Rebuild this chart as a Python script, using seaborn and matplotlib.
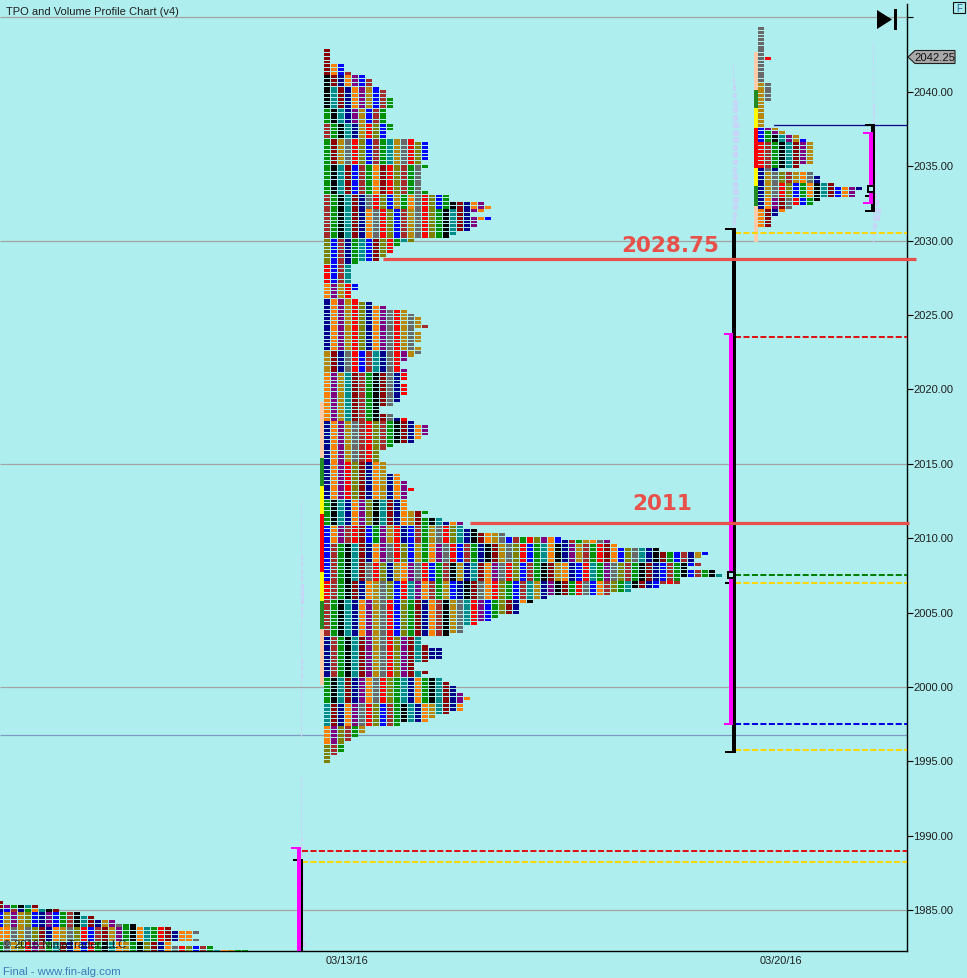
import numpy as np
import pandas as pd
import matplotlib
matplotlib.use("Agg")
import matplotlib.pyplot as plt
from matplotlib.transforms import ScaledTranslation
import seaborn as sns

# --- TPO row widths (cells per 0.25 price row), top row first ---
main_top_price = 2042.75
main_widths = [1, 1, 1, 1, 3, 3, 4, 6, 7, 7, 8, 9, 9, 10, 10, 10, 9, 9, 9, 9, 10, 10, 9, 9, 13, 15, 15, 15, 15, 15,
               14, 15, 14, 14, 14, 14, 14, 14, 15, 18, 18, 23, 24, 23, 21, 24, 22, 22, 21, 19, 18, 13, 11, 10, 10, 9, 8, 5, 4, 4, 4, 4, 4,
               5, 5, 4, 4, 5, 7, 9, 12, 13, 14, 14, 15, 13, 14, 14, 14, 13, 14, 14, 13, 12, 11, 11, 12, 12, 12, 11, 12, 12, 12, 11, 11,
               10, 8, 8, 10, 12, 13, 15, 15, 15, 14, 13, 10, 9, 8, 8, 8, 9, 9, 9, 11, 11, 12, 12, 13, 12, 12, 12, 12, 12, 15, 14, 17, 20,
               20, 22, 26, 34, 41, 42, 48, 55, 54, 53, 54, 52, 56, 57, 51, 51, 48, 44, 41, 32, 30, 28, 28, 28, 25, 24, 22, 20, 20,
               18, 14, 14, 15, 17, 17, 17, 15, 13, 13, 15, 14, 17, 18, 19, 19, 20, 21, 20, 20, 20, 18, 16, 15, 11, 6, 6, 5, 4, 3, 3, 3, 2, 1, 1]
right_top_price = 2044.25
right_widths = [1, 1, 1, 1, 1, 1, 1, 1, 2, 1, 1, 1, 1, 1, 1, 2, 2, 2, 2, 2, 1, 1, 1, 1, 1, 1, 1,
                3, 4, 6, 7, 8, 8, 8, 8, 8, 8, 6, 3, 8, 9, 9, 11, 15, 14, 14, 9, 8, 5, 4, 3, 2, 2, 2]
prev_top_price = 1985.5
prev_widths = [1, 6, 9, 12, 14, 17, 20, 25, 29, 28, 29, 25, 31, 36]

# letters stand for the period colours, read along rows of the picture in bands of similar rows
main_band_rows = [4, 3, 3, 6, 4, 4, 7, 8, 4, 8, 7, 5, 4, 14, 6, 13, 11, 10, 7, 5, 5, 5, 5, 10, 11, 7, 6, 5, 5]
main_band_cells = ["d", "dobw", "kdnopbww", "ktdnopybwg", "gktnpybwg", "wgktnyrvbg", "gdyarvbwgtyarvb", "gktdbwgodrvwga",
                   "wgktdnarvbygoarvbgkdnopo", "wgktdnoarvbwyarvgktdnpob", "vbwngtbdvrgt", "rbwt", "opyrbt",
                   "nopyrvnoparyaywar", "ydnarbwtnarpya", "opytdwgkdanrp", "nopyawrvwgkdnop", "noprvdnoy", "gktnopvktdnoyd",
                   "bopwrdbgpyrnbwgyarvtnkdoyabwgrvpobnwgyoapkdtbrvnoywgkbn",
                   "bwgktdnoparvbygoparbwgnkdyavrbgtoknpywgrdobvatnkdgbwny",
                   "bwgktdarvnyoparbgwkyntdoparvbwgkdyonbrtgpavwgkdnbwgk",
                   "rwgkdnoyavbrtpowgybnkdaorvgbwtynpkdgrabowvgtkdnbw",
                   "wgktnopyarbvgdnowkyatrpbgvdnoktwabgyrkpnb",
                   "nwgktdpyarvpdtdn", "gktdnpoarvgtno", "tdnoparvbwgktnoy", "opvwgy", "vwg"]
right_band_rows = [8, 1, 6, 5, 7, 1, 1, 2, 7, 1, 3, 4, 3, 5]
right_band_cells = ["a", "ar", "a", "ya", "y", "bpy", "bgpy", "bgktpy", "rwgktdpy", "na", "nyavwyoa", "nyarvbgoktdbop",
                    "nopdarbgktdnop", "odnop"]
prev_band_rows = [1, 1, 1, 4, 4, 3]
prev_band_cells = ["d", "dpgktd", "nbwngotkd", "bypyvbnpbgwktdnypagkt", "ooayavdnoyavrbwdypgkotgrdn", "gayvrpwgtdnobrgktoygkvdnoarvbwgtoyg"]

# --- value area strips (price from, price to, colour) ---
main_strip = [(2019.15, 2015.4, "#FFCBA8"), (2015.4, 2013.5, "#228B22"), (2013.5, 2011.6, "#FFFF00"), (2011.6, 2007.7, "#FF0000"),
              (2007.7, 2005.8, "#FFFF00"), (2005.8, 2003.9, "#228B22"), (2003.9, 2000.15, "#FFCBA8")]
right_strip = [(2042.65, 2040.15, "#FFCBA8"), (2040.15, 2038.9, "#228B22"), (2038.9, 2037.6, "#FFFF00"), (2037.6, 2034.85, "#FF0000"),
               (2034.85, 2033.65, "#FFFF00"), (2033.65, 2032.35, "#228B22"), (2032.35, 2029.9, "#FFCBA8")]

# --- faint volume profiles, one width per 0.5 price, top first ---
vol_main_top = 2012.25
vol_main = [1, 1, 1, 1, 1, 1, 1, 2, 2, 2, 2, 3, 3, 3, 2, 2, 1, 1, 1, 1, 1, 2, 2, 2, 1, 1, 1, 1, 1, 1, 1, 1]
vol_prev_top = 1993.75
vol_prev = [1, 1, 1, 1, 1, 1, 1, 1, 2, 2, 2, 3, 3, 3, 3, 3, 3, 3, 2, 3, 3, 4, 5]
vol_right_top = 2041.75
vol_right = [1, 1, 2, 3, 4, 5, 5, 5, 6, 6, 6, 5, 5, 5, 4, 5, 5, 6, 6, 5, 4, 3, 2, 2]
vol_far_top = 2043.0
vol_far = [1, 1, 1, 1, 1, 1, 1, 1, 2, 2, 2, 3, 3, 3, 3, 3, 3, 4, 3, 3, 4, 6, 8, 7, 4, 2, 1]

# --- levels drawn across the chart ---
gray_levels = [2045, 2030, 2015, 2000, 1985]
blue_gray_level = 1996.75
dash_levels = [2030.5, 2023.5, 2007.5, 2007.0, 1997.5, 1995.75, 1989.0, 1988.25]
dash_colors = ["#FFD700", "#DC1414", "#008000", "#FFD700", "#0000E0", "#FFD700", "#DC1414", "#FFD700"]
dash_starts = [735, 735, 735, 735, 735, 735, 302, 302]
marked_levels = [2028.75, 2011]
marked_labels = ["2028.75", "2011"]
price_ticks = list(range(1985, 2050, 5))
date_labels = ["03/13/16", "03/20/16"]

CELL_COLORS = {"r": "#FF0000", "d": "#8B0000", "o": "#FF8000", "b": "#0000FF", "n": "#00008B", "k": "#000000", "g": "#009000",
               "t": "#008B8B", "p": "#800080", "y": "#B8860B", "v": "#808000", "a": "#696969", "w": "#A52A2A"}
BG = "#AFEEEE"
RED = "#E8504A"
LAVENDER = "#C6D6F6"
PX_PER_POINT = 14.88


def y_of(pixel):
    # picture row to price, 2040 sits on row 92.8
    return 2040 + (92.8 - pixel) / PX_PER_POINT


def build_cells(top_price, widths, band_rows, band_cells, first_x):
    bands = np.repeat(band_cells, band_rows)
    rows = []
    for i, width in enumerate(widths):
        letters = bands[i]
        for col in range(width):
            rows.append({"x": first_x + 7 * col, "price": top_price - 0.25 * i, "tpo": letters[col % len(letters)]})
    return pd.DataFrame(rows)


def range_bar(ax, x, hi, lo, color, tick_left):
    ax.bar(x, hi - lo, 4, bottom=lo, color=color, align="edge", zorder=5, linewidth=0)
    for level in (hi, lo):
        ax.barh(level, x + 4 - tick_left, 2 / PX_PER_POINT, left=tick_left, color=color, zorder=5, linewidth=0)


sns.set_style("white")
plt.rcParams["font.family"] = ["Liberation Sans", "DejaVu Sans"]
plt.rcParams["patch.force_edgecolor"] = False
fig = plt.figure(figsize=(9.67, 9.79), dpi=100, facecolor=BG)
ax = fig.add_axes([0, 27 / 979, 907 / 967, 947 / 979], facecolor=BG)
ax.set_xlim(0, 907)
ax.set_ylim(y_of(952), y_of(5))

ax.hlines(gray_levels, 0, 907, color="#A0A4A4", lw=0.9, zorder=1)
ax.hlines(blue_gray_level, 0, 907, color="#7A9CC0", lw=0.9, zorder=1)

# volume profiles under everything else
for top, values, left in [(vol_main_top, vol_main, 301), (vol_prev_top, vol_prev, 301), (vol_right_top, vol_right, 733), (vol_far_top, vol_far, 873)]:
    prices = top - 0.5 * np.arange(len(values))
    ax.barh(prices, values, 0.4, left=left, color=LAVENDER, zorder=2, linewidth=0)

for strip, x in [(main_strip, 320), (right_strip, 754)]:
    for hi, lo, color in strip:
        ax.bar(x, hi - lo, 4, bottom=lo, color=color, align="edge", zorder=3, linewidth=0)

cells = pd.concat([
    build_cells(main_top_price, main_widths, main_band_rows, main_band_cells, 327),
    build_cells(right_top_price, right_widths, right_band_rows, right_band_cells, 761),
    build_cells(prev_top_price, prev_widths, prev_band_rows, prev_band_cells, 0),
])
# narrow cell marker, sized so that a pixel stays free between neighbours
cell_marker = [(-1, -0.5), (1, -0.5), (1, 0.5), (-1, 0.5)]
sns.scatterplot(data=cells, x="x", y="price", hue="tpo", palette=CELL_COLORS, marker=cell_marker, s=17,
                linewidth=0, edgecolor="none", legend=False, ax=ax, zorder=4)
ax.set_xlabel("")
ax.set_ylabel("")

for price, left, right in zip(marked_levels, [383, 470], [916, 909]):
    ax.plot([left, right], [price, price], color=RED, lw=2.3, solid_capstyle="butt", clip_on=False, zorder=6)
for price, label, text_x, text_y in zip(marked_levels, marked_labels, [670, 662], [246, 504]):
    ax.text(text_x, y_of(text_y), label, color=RED, fontsize=15.5, fontweight="bold", family="DejaVu Sans",
            ha="center", va="center", zorder=7)

for price, color, start in zip(dash_levels, dash_colors, dash_starts):
    ax.plot([start, 907], [price, price], color=color, lw=1.45, ls=(0, (3, 1.2)), dash_capstyle="butt", zorder=5)
ax.plot([774, 907], [2037.75, 2037.75], color="#00008B", lw=0.9, zorder=5)

# session range bars
range_bar(ax, 732, 2030.75, 1995.65, "#000000", 725)
range_bar(ax, 729, 2023.75, 1997.5, "#FF00FF", 724)
ax.barh(2007, 4, 2 / PX_PER_POINT, left=725, color="#000000", zorder=6, linewidth=0)
range_bar(ax, 871, 2037.75, 2032.0, "#000000", 865)
range_bar(ax, 869, 2037.25, 2032.5, "#FF00FF", 863)
ax.barh(2033, 4, 2 / PX_PER_POINT, left=865, color="#000000", zorder=6, linewidth=0)
ax.bar(299, 1988.4 - y_of(952), 4, bottom=y_of(952), color="#000000", align="edge", zorder=5, linewidth=0)
ax.bar(297, 1989.2 - y_of(952), 4, bottom=y_of(952), color="#FF00FF", align="edge", zorder=5, linewidth=0)
ax.barh(1989.2, 10, 2 / PX_PER_POINT, left=291, color="#FF00FF", zorder=6, linewidth=0)
ax.barh(1988.4, 10, 2 / PX_PER_POINT, left=293, color="#000000", zorder=4, linewidth=0)
ax.plot([730.5, 870.5], [2007.5, 2033.5], ls="none", marker="s", ms=4.0, mfc=BG, mec="#000000", mew=1.45, zorder=8)

# skip-to-end button, price tag and the F box
ax.fill([877, 892, 877], [y_of(11), y_of(20.5), y_of(30)], color="#000000", zorder=8, linewidth=0)
ax.fill([893.6, 897, 897, 893.6], [y_of(10), y_of(10), y_of(31), y_of(31)], color="#000000", zorder=8, linewidth=0)
ax.fill([908, 915, 955, 955, 915], [y_of(58), y_of(51.5), y_of(51.5), y_of(64.5), y_of(64.5)], facecolor="#A9A9A9",
        edgecolor="#202020", lw=0.8, clip_on=False, zorder=8)
ax.text(935, y_of(58), "2042.25", fontsize=8.1, ha="center", va="center", color="#101010", clip_on=False, zorder=9)
ax.fill([953, 965, 965, 953], [y_of(3), y_of(3), y_of(14), y_of(14)], facecolor=BG, edgecolor="#101010", lw=0.8, clip_on=False, zorder=8)
ax.text(959, y_of(8.6), "F", fontsize=7, ha="center", va="center", color="#2060A0", clip_on=False, zorder=9)

sns.despine(ax=ax, left=True, top=True, right=False, bottom=False)
for side in ("right", "bottom"):
    ax.spines[side].set_color("#000000")
    ax.spines[side].set_linewidth(1.0)
ax.yaxis.tick_right()
ax.set_yticks(price_ticks)
ax.set_yticklabels([f"{p:.2f}" if p < 2045 else "" for p in price_ticks])
ax.tick_params(axis="y", length=4.5, width=0.8, color="#000000", labelsize=8.0, pad=0, labelcolor="#202020", right=True)
# labels sit a pixel above their ticks in the original
for label in ax.get_yticklabels():
    label.set_transform(label.get_transform() + ScaledTranslation(0, 1 / 100, fig.dpi_scale_trans))
ax.set_xticks([347.5, 780.5])
ax.set_xticklabels(date_labels)
ax.tick_params(axis="x", length=0, labelsize=7.9, pad=3, labelcolor="#202020")

ax.text(6, y_of(12), "TPO and Volume Profile Chart (v4)", fontsize=8.0, color="#202020", va="center", zorder=9)
ax.text(3, y_of(945), "© 2016 NinjaTrader, LLC", fontsize=8.0, color="#202020", va="center", zorder=9)
fig.text(3 / 967, 1 - 972 / 979, "Final - www.fin-alg.com", fontsize=8.2, color="#3A7CB8", va="center")

fig.savefig("out.png", dpi=100, facecolor=BG)
plt.close(fig)
